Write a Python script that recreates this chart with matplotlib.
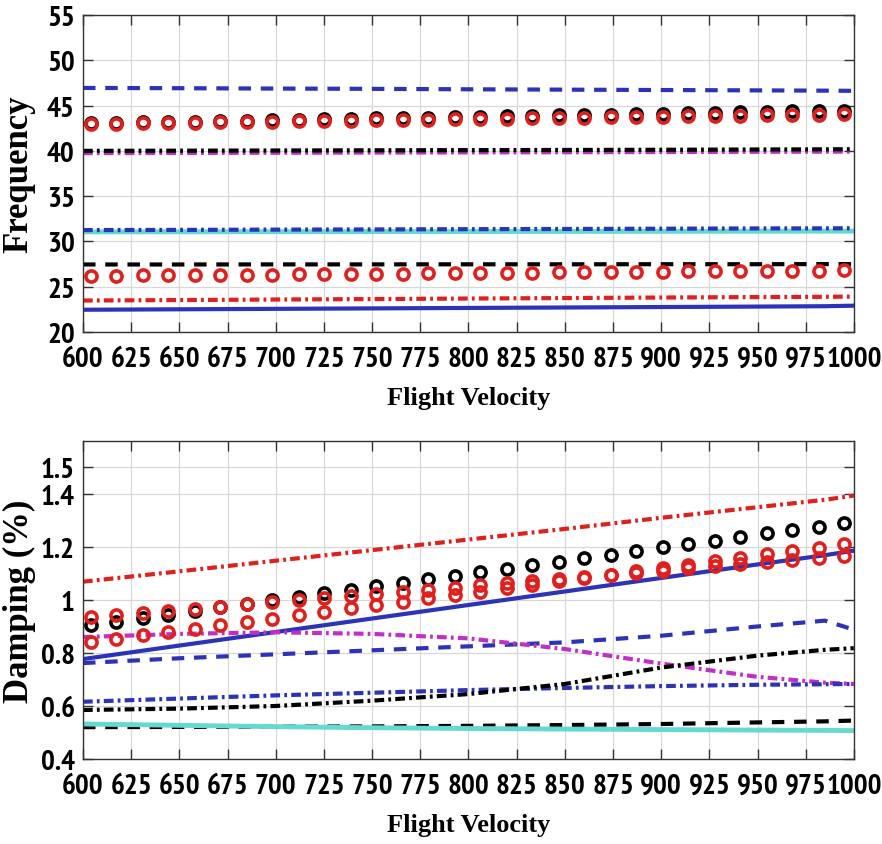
import numpy as np
import matplotlib
matplotlib.use('Agg')
import matplotlib.pyplot as plt
from matplotlib import font_manager

# velocity grid for the lines
v_line = [600, 650, 700, 750, 800, 850, 900, 950, 985, 1000]
# velocity of the circle markers
v_mark = [604, 617, 631, 644, 658, 671, 685, 698, 712, 725, 739, 752, 766, 779, 793,
          806, 820, 833, 847, 860, 874, 887, 901, 914, 928, 941, 955, 968, 982, 995]

# ---- frequency (top panel) ----
f_blue_dash = [46.95, 46.92, 46.88, 46.85, 46.80, 46.76, 46.72, 46.68, 46.65, 46.63]
f_black_dashdot = [40.00, 40.02, 40.04, 40.06, 40.08, 40.10, 40.12, 40.15, 40.17, 40.18]
f_magenta_dashdot = [39.75, 39.77, 39.79, 39.81, 39.83, 39.85, 39.87, 39.90, 39.91, 39.92]
f_blue_dashdot = [31.25, 31.27, 31.30, 31.32, 31.35, 31.37, 31.40, 31.43, 31.44, 31.45]
f_cyan = [31.05, 31.06, 31.07, 31.08, 31.09, 31.10, 31.11, 31.12, 31.13, 31.13]
f_black_dash = [27.45, 27.45, 27.46, 27.46, 27.47, 27.47, 27.48, 27.48, 27.49, 27.49]
f_red_dashdot = [23.47, 23.52, 23.58, 23.63, 23.69, 23.74, 23.80, 23.85, 23.88, 23.90]
f_blue_solid = [22.45, 22.50, 22.55, 22.60, 22.65, 22.70, 22.75, 22.80, 22.84, 22.90]

f_black_o = [43.05, 43.10, 43.15, 43.20, 43.24, 43.29, 43.34, 43.39, 43.44, 43.48,
             43.53, 43.58, 43.63, 43.68, 43.72, 43.77, 43.82, 43.87, 43.92, 43.96,
             44.01, 44.06, 44.11, 44.16, 44.20, 44.25, 44.30, 44.35, 44.40, 44.45]
f_red_o_hi = [42.95, 42.99, 43.03, 43.06, 43.10, 43.14, 43.18, 43.22, 43.25, 43.29,
              43.33, 43.37, 43.41, 43.44, 43.48, 43.52, 43.56, 43.60, 43.63, 43.67,
              43.71, 43.75, 43.79, 43.82, 43.86, 43.90, 43.94, 43.98, 44.01, 44.05]
f_red_o_lo = [26.20, 26.22, 26.24, 26.26, 26.28, 26.30, 26.32, 26.34, 26.37, 26.39,
              26.41, 26.43, 26.45, 26.47, 26.49, 26.51, 26.53, 26.55, 26.57, 26.59,
              26.61, 26.63, 26.66, 26.68, 26.70, 26.72, 26.74, 26.76, 26.78, 26.80]

# ---- damping (bottom panel) ----
d_red_dashdot = [1.069, 1.108, 1.148, 1.188, 1.228, 1.268, 1.310, 1.350, 1.378, 1.394]
d_blue_solid = [0.777, 0.828, 0.879, 0.930, 0.981, 1.032, 1.083, 1.134, 1.169, 1.186]
d_magenta_dashdot = [0.860, 0.872, 0.878, 0.872, 0.855, 0.815, 0.760, 0.710, 0.688, 0.683]
d_blue_dash = [0.762, 0.780, 0.795, 0.810, 0.825, 0.840, 0.865, 0.900, 0.922, 0.888]
d_blue_dashdot = [0.616, 0.628, 0.640, 0.650, 0.660, 0.668, 0.675, 0.680, 0.682, 0.683]
d_black_dashdot = [0.585, 0.590, 0.600, 0.620, 0.645, 0.683, 0.745, 0.790, 0.812, 0.818]
d_black_dash = [0.520, 0.521, 0.522, 0.523, 0.525, 0.528, 0.532, 0.538, 0.542, 0.545]
d_cyan = [0.532, 0.527, 0.522, 0.518, 0.515, 0.513, 0.511, 0.509, 0.508, 0.507]

d_black_o = [0.905, 0.918, 0.932, 0.945, 0.958, 0.972, 0.985, 0.998, 1.011, 1.025,
             1.038, 1.051, 1.065, 1.078, 1.091, 1.105, 1.118, 1.131, 1.144, 1.158,
             1.171, 1.184, 1.198, 1.211, 1.224, 1.238, 1.251, 1.264, 1.277, 1.291]
d_red_o_a = [0.935, 0.943, 0.951, 0.959, 0.967, 0.975, 0.983, 0.991, 0.999, 1.007,
             1.015, 1.023, 1.031, 1.039, 1.047, 1.055, 1.063, 1.071, 1.079, 1.087,
             1.095, 1.103, 1.111, 1.119, 1.127, 1.135, 1.143, 1.151, 1.159, 1.167]
d_red_o_b = [0.840, 0.853, 0.866, 0.878, 0.891, 0.904, 0.917, 0.929, 0.942, 0.955,
             0.968, 0.980, 0.993, 1.006, 1.019, 1.031, 1.044, 1.057, 1.070, 1.082,
             1.095, 1.108, 1.121, 1.133, 1.146, 1.159, 1.172, 1.184, 1.197, 1.210]

x_ticks = list(range(600, 1001, 25))
f_ticks = [20, 25, 30, 35, 40, 45, 50, 55]
d_ticks = [0.4, 0.6, 0.8, 1, 1.2, 1.4, 1.5]
d_ticklabels = ['0.4', '0.6', '0.8', '1', '1.2', '1.4', '1.5']

BLUE = '#2c33b8'
RED = '#e0201c'
MAGENTA = '#c42ec8'
CYAN = '#63d9d2'
BLACK = '#000000'

DASH = (9, 7)
DASHDOT = (7, 3, 2, 3)
LW = 3.0

plt.rcParams['lines.scale_dashes'] = False

# narrow sans for the tick numbers, if one is around
installed = {f.name for f in font_manager.fontManager.ttflist}
tick_font, tick_size = ['Liberation Sans', 'DejaVu Sans'], 15
for name, size in [('Liberation Sans Narrow', 19.5), ('Arial Narrow', 19.5),
                   ('PT Sans Narrow', 21), ('Roboto Condensed', 18.5)]:
    if name in installed:
        tick_font, tick_size = [name, 'DejaVu Sans'], size
        break
label_font = ['Liberation Serif', 'DejaVu Serif']


def draw_line(ax, y, color, dashes=None, lw=LW):
    line, = ax.plot(v_line, y, color=color, linewidth=lw)
    if dashes is not None:
        line.set_dashes(dashes)
    return line


def draw_marks(ax, y, color):
    ax.plot(v_mark, y, 'o', markersize=8, markerfacecolor='none',
            markeredgecolor=color, markeredgewidth=2.6, zorder=5)


def style_axes(ax, ylabel):
    ax.set_xlim(600, 1000)
    ax.set_xticks(x_ticks)
    ax.grid(True, color='#d8d8d8', linewidth=0.9)
    ax.set_axisbelow(True)
    ax.tick_params(direction='in', top=True, right=True, length=7, width=1,
                   color='#333333')
    ax.tick_params(axis='x', pad=10)
    ax.tick_params(axis='y', pad=6)
    for lab in ax.get_xticklabels() + ax.get_yticklabels():
        lab.set_fontfamily(tick_font)
        lab.set_fontsize(tick_size)
        lab.set_fontweight('bold')
    for sp in ax.spines.values():
        sp.set_color('#333333')
        sp.set_linewidth(1.0)
    ax.set_xlabel('Flight Velocity', fontfamily=label_font, fontweight='bold',
                  fontsize=19)
    ax.set_ylabel(ylabel, fontfamily=label_font, fontweight='bold', fontsize=25)
    ax.xaxis.set_label_coords(0.5, -0.17)
    ax.yaxis.set_label_coords(-0.083, 0.5)
    ax.yaxis.label.set_va('center')


fig = plt.figure(figsize=(8.82, 8.45), dpi=100)
ax1 = fig.add_axes([0.0941, 0.606, 0.874, 0.375])
ax2 = fig.add_axes([0.0941, 0.1006, 0.874, 0.3764])

# top: frequency
draw_line(ax1, f_blue_dash, BLUE, DASH)
draw_line(ax1, f_magenta_dashdot, MAGENTA, DASHDOT)
draw_line(ax1, f_black_dashdot, BLACK, DASHDOT)
draw_line(ax1, f_cyan, CYAN, None, lw=3.5)
draw_line(ax1, f_blue_dashdot, BLUE, DASHDOT)
draw_line(ax1, f_black_dash, BLACK, DASH)
draw_line(ax1, f_red_dashdot, RED, DASHDOT)
draw_line(ax1, f_blue_solid, BLUE, None)
draw_marks(ax1, f_black_o, BLACK)
draw_marks(ax1, f_red_o_hi, RED)
draw_marks(ax1, f_red_o_lo, RED)
ax1.set_ylim(20, 55)
ax1.set_yticks(f_ticks)
style_axes(ax1, 'Frequency')

# bottom: damping
draw_line(ax2, d_red_dashdot, RED, DASHDOT)
draw_line(ax2, d_blue_solid, BLUE, None)
draw_line(ax2, d_blue_dash, BLUE, DASH)
draw_line(ax2, d_magenta_dashdot, MAGENTA, DASHDOT)
draw_line(ax2, d_blue_dashdot, BLUE, DASHDOT)
draw_line(ax2, d_black_dashdot, BLACK, DASHDOT)
draw_line(ax2, d_black_dash, BLACK, DASH)
draw_line(ax2, d_cyan, CYAN, None, lw=3.5)
draw_marks(ax2, d_black_o, BLACK)
draw_marks(ax2, d_red_o_a, RED)
draw_marks(ax2, d_red_o_b, RED)
ax2.set_ylim(0.4, 1.6)
ax2.set_yticks(d_ticks)
ax2.set_yticklabels(d_ticklabels)
style_axes(ax2, 'Damping (%)')

fig.savefig('out.png', dpi=100)
